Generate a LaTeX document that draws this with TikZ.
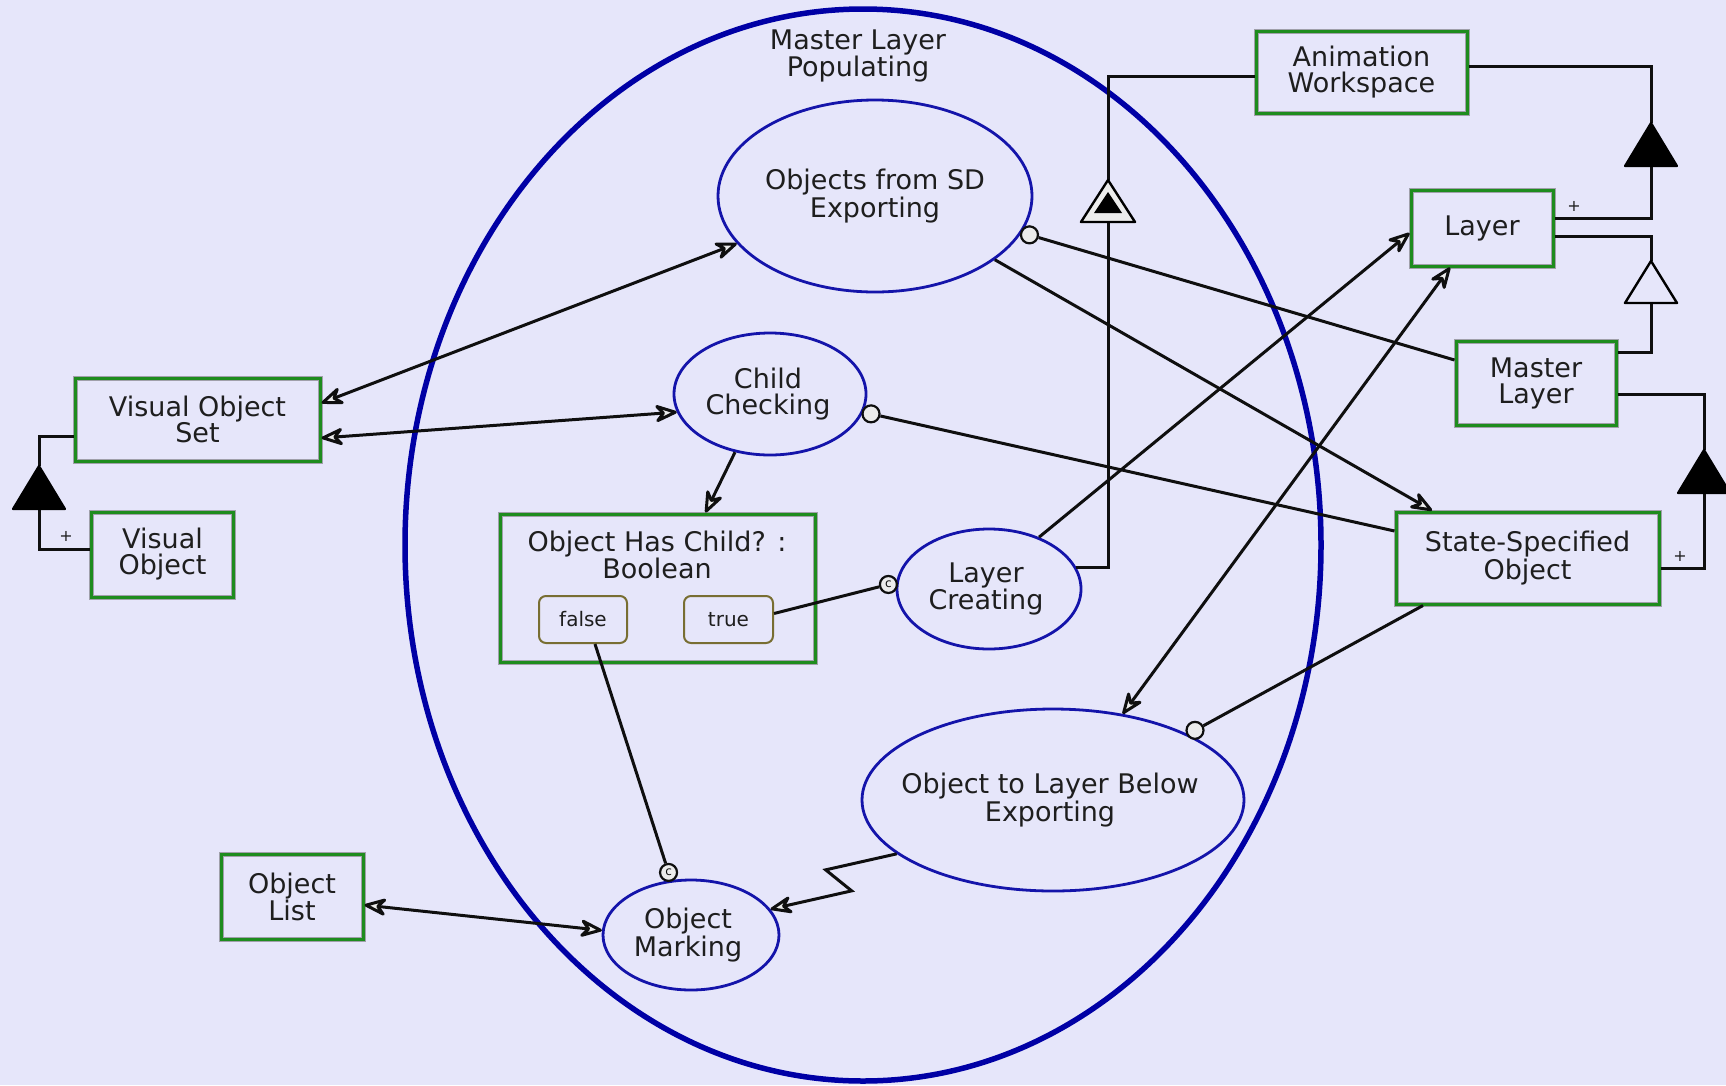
\documentclass[tikz,border=0pt]{standalone}
\usepackage{fontspec}
\setmainfont{DejaVu Sans}
\usetikzlibrary{arrows.meta,shapes.geometric,calc}
\definecolor{bg}{RGB}{230,230,250}
\definecolor{objgreen}{RGB}{30,140,30}
\definecolor{procblue}{RGB}{20,20,170}
\definecolor{bigblue}{RGB}{0,0,165}
\definecolor{txt}{RGB}{30,30,30}
\definecolor{lk}{RGB}{15,15,15}
\definecolor{halo}{RGB}{160,160,170}
\definecolor{arrfill}{RGB}{236,236,236}
\definecolor{condedge}{RGB}{120,110,50}
\newcommand\mainfs{\fontsize{27}{26}\selectfont}
\newcommand\smallfs{\fontsize{20}{20}\selectfont}
\tikzset{
  obj/.style={rectangle, draw=objgreen, line width=3pt, preaction={draw=halo, line width=5pt}, inner sep=0pt, align=center, font=\mainfs, text=txt},
  proc/.style={ellipse, draw=procblue, line width=2.8pt, inner sep=0pt},
  ptext/.style={align=center, font=\mainfs, text=txt, inner sep=0pt},
  condbox/.style={rectangle, rounded corners=7pt, draw=condedge, line width=2pt, inner sep=0pt, font=\smallfs, text=txt},
  link/.style={draw=lk, line width=3pt},
  instc/.style={circle, draw=lk, fill=arrfill, line width=2.2pt, minimum size=17pt, inner sep=0pt},
  plusl/.style={font=\fontsize{16}{16}\selectfont, text=txt, inner sep=0pt},
  aggtri/.pic={\draw[fill=black, line width=2.2pt, line join=round] (0,0) -- (-26,43) -- (26,43) -- cycle;},
  gentri/.pic={\draw[fill=bg, line width=2.4pt, line join=round] (0,0) -- (-26,42) -- (26,42) -- cycle;},
  exhtri/.pic={\draw[fill=arrfill, line width=2.4pt, line join=round] (0,0) -- (-27,42) -- (27,42) -- cycle;
               \fill[black] (0,12) -- (-14,33) -- (14,33) -- cycle;},
  >={Stealth[length=27pt,width=21pt,inset=9pt,fill=arrfill,round]}
}
\begin{document}
\begin{tikzpicture}[x=1pt,y=-1pt]
\useasboundingbox (0,0) rectangle (1726,1085);
\fill[bg] (0,0) rectangle (1726,1085);

% big process
\node[ellipse, draw=bigblue, line width=5.5pt, minimum width=916pt, minimum height=1072pt, inner sep=0pt] (big) at (863,545) {};
\node[ptext] (bigl) at (858,56) {Master Layer\\Populating};

% objects
\node[obj, minimum width=211pt, minimum height=82pt] (aw) at (1361.5,72) {Animation\\Workspace};
\node[obj, minimum width=142pt, minimum height=76pt] (layer) at (1482,228) {Layer};
\node[obj, minimum width=160pt, minimum height=84pt] (ml) at (1536,383) {Master\\Layer};
\node[obj, minimum width=263pt, minimum height=92pt] (sso) at (1527.5,558) {State-Specified\\Object};
\node[obj, minimum width=245pt, minimum height=83pt] (vos) at (197.5,419.5) {Visual Object\\Set};
\node[obj, minimum width=142pt, minimum height=85pt] (vo) at (162.5,554.5) {Visual\\Object};
\node[obj, minimum width=142pt, minimum height=85pt] (ol) at (292,896.5) {Object\\List};
\node[obj, minimum width=315pt, minimum height=148pt] (ohc) at (657.5,588) {};
\node[ptext] (ohcl) at (657,555) {Object Has Child? :\\Boolean};
\node[condbox, minimum width=88pt, minimum height=47pt] (false) at (583,619.5) {false};
\node[condbox, minimum width=89pt, minimum height=47pt] (true) at (728.5,619.5) {true};

% processes
\node[proc, minimum width=314pt, minimum height=192pt] (osd) at (875,196) {};
\node[ptext] (osdt) at (875,196) {Objects from SD\\Exporting};
\node[proc, minimum width=192pt, minimum height=122pt] (cc) at (770,394) {};
\node[ptext] (cct) at (768,394) {Child\\Checking};
\node[proc, minimum width=184pt, minimum height=120pt] (lc) at (989,589) {};
\node[ptext] (lct) at (986,589) {Layer\\Creating};
\node[proc, minimum width=382pt, minimum height=182pt] (otlbe) at (1053,800) {};
\node[ptext] (otlbet) at (1050,800) {Object to Layer Below\\Exporting};
\node[proc, minimum width=176pt, minimum height=110pt] (om) at (691,935) {};
\node[ptext] (omt) at (688,935) {Object\\Marking};

% structural links
\coordinate (a1) at (1651,123);
\coordinate (a1b) at (1651,166);
\draw[link] ([yshift=6pt]aw.east) -| (a1);
\draw[link] (a1b) |- ([yshift=10pt]layer.east);
\pic at (a1) {aggtri};
\node[plusl] (p1) at (1574,206) {+};

\coordinate (g1) at (1651,261);
\coordinate (g1b) at (1651,303);
\draw[link] ([yshift=-8pt]layer.east) -| (g1);
\draw[link] (g1b) |- ([yshift=31pt]ml.east);
\pic at (g1) {gentri};

\coordinate (a2) at (1704,450);
\coordinate (a2b) at (1704,493);
\draw[link] ([yshift=-11pt]ml.east) -| (a2);
\draw[link] (a2b) |- ([yshift=-10pt]sso.east);
\pic at (a2) {aggtri};
\node[plusl] (p2) at (1680,556) {+};

\coordinate (a3) at (39,466);
\coordinate (a3b) at (39,509);
\draw[link] ([yshift=-16.5pt]vos.west) -| (a3);
\draw[link] (a3b) |- ([yshift=5pt]vo.west);
\pic at (a3) {aggtri};
\node[plusl] (p3) at (66,536) {+};

\coordinate (e1) at (1108,180);
\coordinate (e1b) at (1108,222);
\draw[link] (lc.14) -| (e1b);
\draw[link] (e1) |- ([yshift=-4pt]aw.west);
\pic at (e1) {exhtri};

% procedural links
\draw[link,<->] ([yshift=16.5pt]vos.east) -- (osd.199);
\draw[link,<->] ([yshift=-18.5pt]vos.east) -- (cc.191);
\draw[link,->] (cc.239) -- ([xshift=48pt]ohc.north);
\draw[link,->] (osd.-28) -- ([xshift=-95.5pt]sso.north);
\draw[link,->] (lc.46) -- ([yshift=-5pt]layer.west);
\draw[link,<->] ([xshift=-32pt]layer.south) -- (otlbe.51);
\draw[link,<->] ([yshift=-8.5pt]ol.east) -- (om.177);
\draw[link,->] (otlbe.199) -- ++(-71,16) -- ++(26,21) -- (om.18);

% instrument links
\node[instc] (ic1) at ($(cc.-11)!8pt!([yshift=27pt]sso.west)$) {};
\draw[link] (ic1) -- ([yshift=27pt]sso.west);
\node[instc] (ic2) at ($(osd.-14)!8pt!([yshift=23pt]ml.west)$) {};
\draw[link] (ic2) -- ([yshift=23pt]ml.west);
\node[instc] (ic3) at ($(otlbe.26)!8pt!([xshift=-104.5pt]sso.south)$) {};
\draw[link] (ic3) -- ([xshift=-104.5pt]sso.south);

% condition links
\node[instc, font=\fontsize{12}{12}\selectfont, text=lk] (cn1) at ($(lc.176)!8pt!([yshift=6pt]true.east)$) {c};
\draw[link] ([yshift=6pt]true.east) -- (cn1);
\node[instc, font=\fontsize{12}{12}\selectfont, text=lk] (cn2) at ($(om.110)!8pt!([xshift=12pt]false.south)$) {c};
\draw[link] ([xshift=12pt]false.south) -- (cn2);
\end{tikzpicture}
\end{document}
